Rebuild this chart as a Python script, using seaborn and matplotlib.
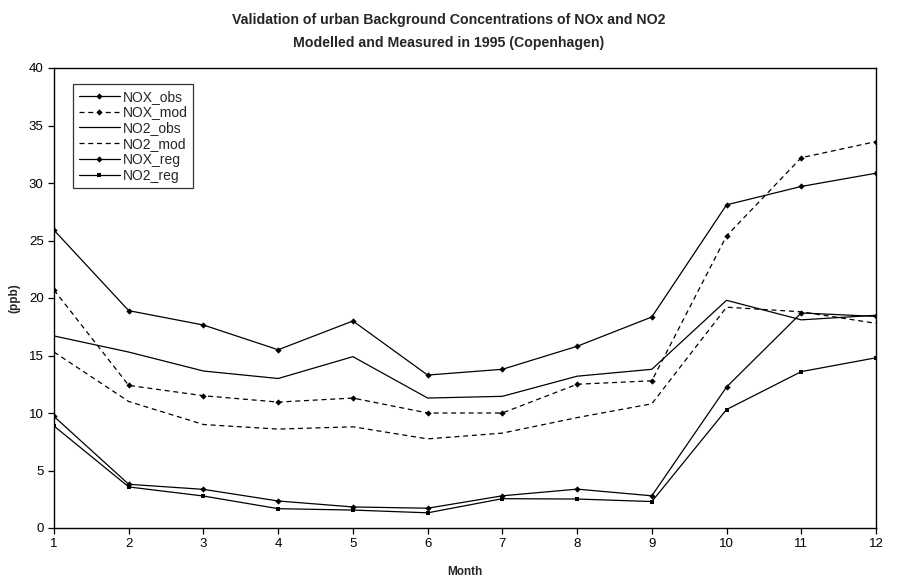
import numpy as np
import pandas as pd
import matplotlib
matplotlib.use('Agg')
import matplotlib.pyplot as plt
import seaborn as sns

sns.set_style('white')
plt.rcParams['font.family'] = ['Liberation Sans', 'DejaVu Sans']

months = list(range(1, 13))
nox_obs = [25.9, 18.9, 17.65, 15.5, 18.0, 13.3, 13.8, 15.8, 18.35, 28.1, 29.7, 30.85]
nox_mod = [20.7, 12.4, 11.5, 10.95, 11.3, 10.0, 10.0, 12.5, 12.8, 25.4, 32.2, 33.6]
no2_obs = [16.7, 15.3, 13.65, 13.0, 14.9, 11.3, 11.45, 13.2, 13.8, 19.8, 18.1, 18.5]
no2_mod = [15.3, 11.0, 9.0, 8.6, 8.8, 7.75, 8.25, 9.6, 10.8, 19.2, 18.8, 17.8]
nox_reg = [9.7, 3.8, 3.36, 2.35, 1.83, 1.72, 2.8, 3.38, 2.8, 12.26, 18.7, 18.4]
no2_reg = [8.87, 3.57, 2.78, 1.68, 1.56, 1.32, 2.55, 2.52, 2.3, 10.3, 13.6, 14.8]

series = {
    'NOX_obs': nox_obs,
    'NOX_mod': nox_mod,
    'NO2_obs': no2_obs,
    'NO2_mod': no2_mod,
    'NOX_reg': nox_reg,
    'NO2_reg': no2_reg,
}
styles = {
    'NOX_obs': dict(ls='-', marker='D', ms=3.2),
    'NOX_mod': dict(ls=(0, (4, 3)), marker='D', ms=3.2),
    'NO2_obs': dict(ls='-', marker=None, ms=0),
    'NO2_mod': dict(ls=(0, (4, 3)), marker=None, ms=0),
    'NOX_reg': dict(ls='-', marker='D', ms=3.2),
    'NO2_reg': dict(ls='-', marker='s', ms=3.5),
}

df = pd.DataFrame({'Month': months, **series}).melt(id_vars='Month', var_name='series', value_name='ppb')

fig = plt.figure(figsize=(8.98, 5.87), dpi=100)
ax = fig.add_axes([54 / 898, 1 - 528 / 587, 822 / 898, 460 / 587])

for name in series:
    st = styles[name]
    sub = df[df['series'] == name]
    sns.lineplot(data=sub, x='Month', y='ppb', ax=ax, color='black', lw=0.9,
                 linestyle=st['ls'], marker=st['marker'], markersize=st['ms'],
                 markeredgewidth=0, label=name)

ax.set_xlim(1, 12)
ax.set_ylim(0, 40)
ax.set_xticks(months)
ax.set_yticks(np.arange(0, 41, 5))
ax.tick_params(direction='out', length=4, width=0.9, labelsize=9.5, colors='black',
               bottom=True, left=True)
for s in ax.spines.values():
    s.set_color('black')
    s.set_linewidth(1.0)

ax.set_xlabel('Month', fontsize=8.5, fontweight='bold', labelpad=11)
ax.set_ylabel('(ppb)', fontsize=8.5, fontweight='bold')
ax.yaxis.set_label_coords(-34 / 822, 0.5)

fig.text(0.5, 1 - 20 / 587, 'Validation of urban Background Concentrations of NOx and NO2',
         ha='center', va='center', fontsize=10.2, fontweight='bold')
fig.text(0.5, 1 - 43 / 587, 'Modelled and Measured in 1995 (Copenhagen)',
         ha='center', va='center', fontsize=10.2, fontweight='bold')

leg = ax.legend(loc='upper left', bbox_to_anchor=(19 / 822, 1 - 16 / 460), borderaxespad=0,
                fontsize=10, frameon=True, fancybox=False, handlelength=3.0,
                handletextpad=0.2, labelspacing=0.13, borderpad=0.4)
leg.get_frame().set_edgecolor('black')
leg.get_frame().set_linewidth(0.9)

fig.savefig('out.png', dpi=100, facecolor='white')
